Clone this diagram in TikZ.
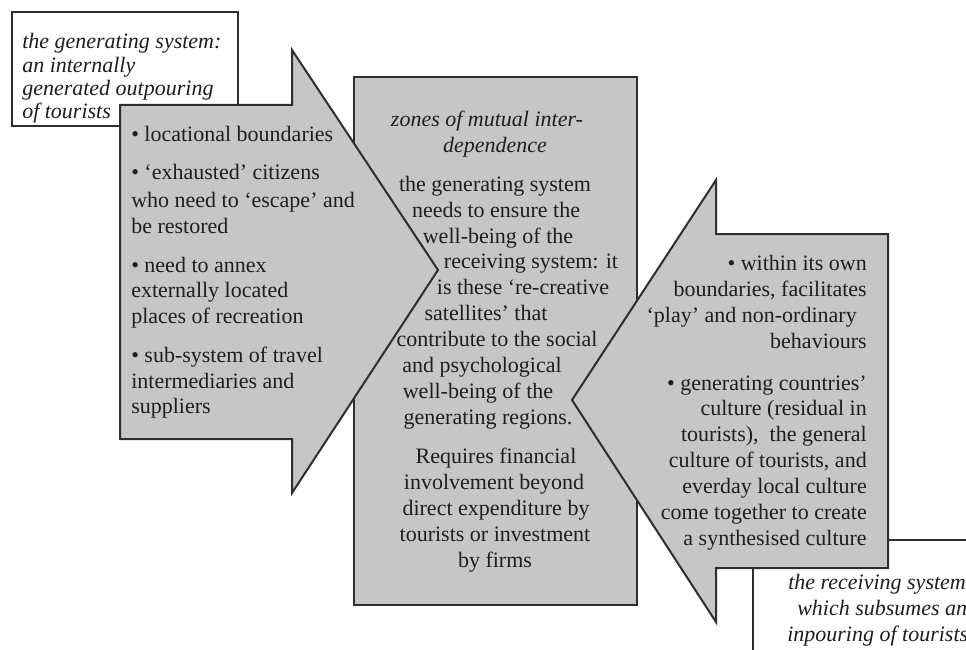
\documentclass[tikz,border=0pt]{standalone}
\usepackage{fontspec}
\setmainfont{Liberation Serif}
\definecolor{boxfill}{HTML}{C6C6C6}
\definecolor{edge}{HTML}{2E2E2E}
\definecolor{ink}{HTML}{1E1E1E}
\begin{document}
\begin{tikzpicture}[x=0.75pt,y=-0.75pt,
  shapefill/.style={draw=edge, line width=1.5pt, fill=boxfill, line join=miter},
  tagbox/.style={draw=edge, line width=1.2pt, fill=white},
  txt/.style={inner sep=0pt, font=\fontsize{16.5}{19}\selectfont, text=ink},
  itxt/.style={inner sep=0pt, font=\fontsize{16.5}{19}\selectfont\itshape, text=ink}]
\useasboundingbox (0,0) rectangle (966,649);
\clip (0,0) rectangle (966,649);
\fill[white] (0,0) rectangle (966,649);

% label boxes and shapes
\draw[tagbox] (12,12) rectangle (238,126);
\draw[shapefill] (354,77) rectangle (637,605);
\draw[shapefill] (120,105) -- (292,105) -- (292,50) -- (438,270) -- (292,493) -- (292,439) -- (120,439) -- cycle;
\draw[tagbox] (753,540) rectangle (1000,700);
\draw[shapefill] (888,234) -- (716,234) -- (716,180) -- (572,400) -- (716,622) -- (716,568) -- (888,568) -- cycle;

% top-left label
\foreach \n/\yy/\tx in {1/49/{the generating system:}, 2/73/{an internally}, 3/96/{generated outpouring}, 4/119/{of tourists}}
  \node[itxt, anchor=base west] (gen\n) at (22,\yy) {\tx};

% bottom-right label
\foreach \n/\xx/\yy/\tx in {1/788/589/{the receiving system:}, 2/797/615/{which subsumes an}, 3/787/641/{inpouring of tourists}}
  \node[itxt, anchor=base west] (rec\n) at (\xx,\yy) {\tx};

% left arrow text
\foreach \n/\yy/\tx in {1/142/{• locational boundaries}, 2/180/{• ‘exhausted’ citizens}, 3/207/{who need to ‘escape’ and}, 4/233/{be restored}, 5/272/{• need to annex}, 6/297/{externally located}, 7/323/{places of recreation}, 8/362/{• sub-system of travel}, 9/388/{intermediaries and}, 10/413/{suppliers}}
  \node[txt, anchor=base west] (left\n) at (131,\yy) {\tx};

% centre text
\node[itxt, anchor=base] (ctitle1) at (487,127) {zones of mutual inter-};
\node[itxt, anchor=base] (ctitle2) at (495,152) {dependence};
\foreach \n/\xx/\yy/\tx in {1/495/191/{the generating system}, 2/496/217/{needs to ensure the}, 3/498/243/{well-being of the}, 4/531/268/{receiving system: it}, 5/523/294/{is these ‘re-creative}, 6/486/320/{satellites’ that}, 7/497/346/{contribute to the social}, 8/482/372/{and psychological}, 9/478/398/{well-being of the}, 10/488/424/{generating regions.}, 11/496/463/{Requires financial}, 12/494/489/{involvement beyond}, 13/496/515/{direct expenditure by}, 14/495/541/{tourists or investment}, 15/495/567/{by firms}}
  \node[txt, anchor=base] (mid\n) at (\xx,\yy) {\tx};

% right arrow text
\foreach \n/\xx/\yy/\tx in {1/867/270/{• within its own}, 2/867/296/{boundaries, facilitates}, 3/857/322/{‘play’ and non-ordinary}, 4/867/348/{behaviours}, 5/867/390/{• generating countries’}, 6/867/415/{culture (residual in}, 7/867/441/{tourists),\ \ the general}, 8/867/467/{culture of tourists, and}, 9/867/493/{everday local culture}, 10/867/519/{come together to create}, 11/867/545/{a synthesised culture}}
  \node[txt, anchor=base east] (right\n) at (\xx,\yy) {\tx};
\end{tikzpicture}
\end{document}
